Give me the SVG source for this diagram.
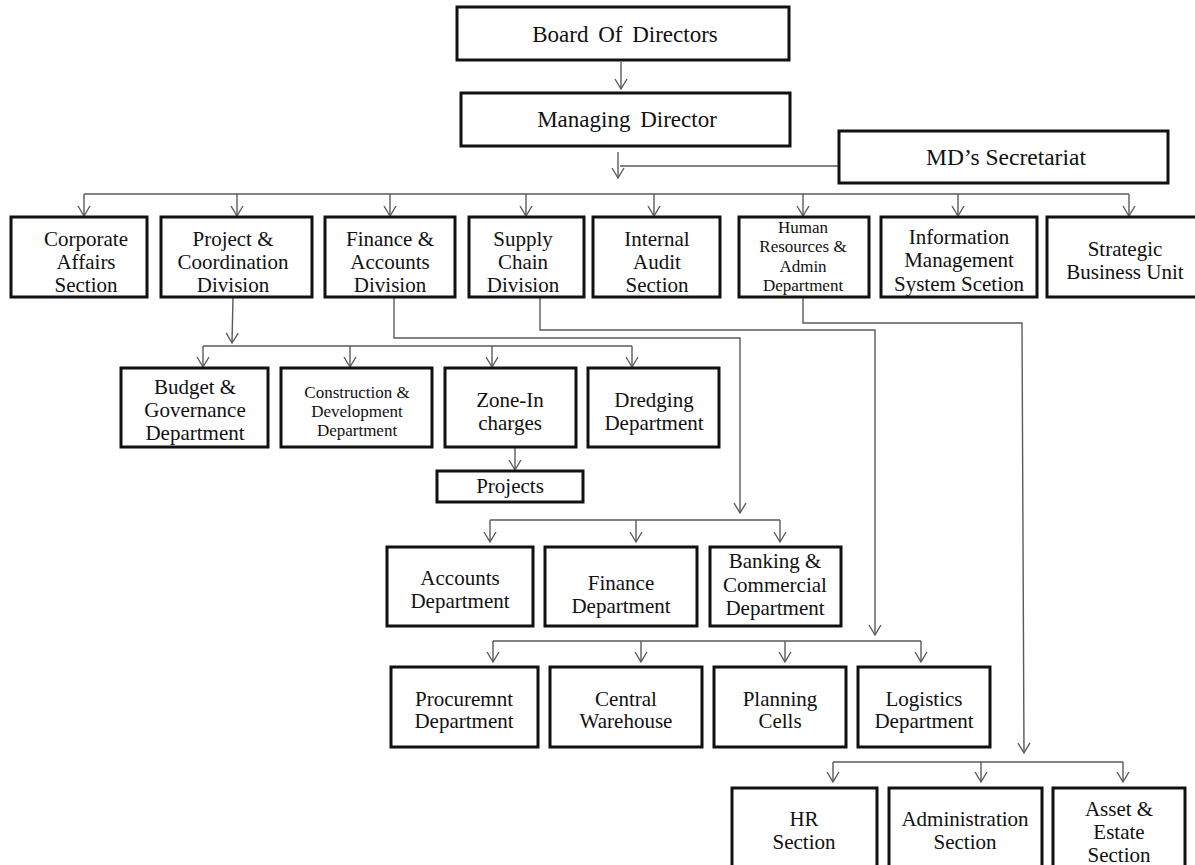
<svg xmlns="http://www.w3.org/2000/svg" width="1195" height="865" viewBox="0 0 1195 865">
<defs>
<marker id="arr" markerUnits="userSpaceOnUse" markerWidth="24" markerHeight="24" viewBox="-12 -12 24 24" refX="0" refY="0" orient="auto" overflow="visible">
<path d="M-10,-6 L0,0 L-10,6" fill="none" stroke="#5a5a5a" stroke-width="1.4"/>
</marker>
<style>
.b{fill:#fff;stroke:#111;stroke-width:3}
.t{font-family:"Liberation Serif","Times New Roman",serif;font-size:21px;fill:#111;text-anchor:middle}
.l{font-size:23px;word-spacing:4px}
.m{font-size:23.5px}
.s{font-size:17px}
.c{fill:none;stroke:#5a5a5a;stroke-width:1.4}
.a{marker-end:url(#arr)}
</style>
</defs>
<rect width="1195" height="865" fill="#fff"/>
<g id="connectors" class="c">
<line class="a" x1="621" y1="62" x2="621" y2="89"/>
<line class="a" x1="618" y1="152" x2="618" y2="178"/>
<line x1="839" y1="166" x2="620" y2="166"/>
<line x1="84" y1="194" x2="1129" y2="194"/>
<line class="a" x1="84" y1="194" x2="84" y2="216"/>
<line class="a" x1="237" y1="194" x2="237" y2="216"/>
<line class="a" x1="390" y1="194" x2="390" y2="216"/>
<line class="a" x1="526" y1="194" x2="526" y2="216"/>
<line class="a" x1="654" y1="194" x2="654" y2="216"/>
<line class="a" x1="803" y1="194" x2="803" y2="216"/>
<line class="a" x1="958" y1="194" x2="958" y2="216"/>
<line class="a" x1="1129" y1="194" x2="1129" y2="216"/>
<line class="a" x1="233" y1="297" x2="232" y2="343"/>
<line x1="203" y1="346" x2="632" y2="346"/>
<line class="a" x1="203" y1="346" x2="203" y2="367"/>
<line class="a" x1="350" y1="346" x2="350" y2="367"/>
<line class="a" x1="492" y1="346" x2="492" y2="367"/>
<line class="a" x1="632" y1="346" x2="632" y2="367"/>
<line class="a" x1="515" y1="447" x2="515" y2="470"/>
<polyline class="a" points="394,297 394,338 740,338 740,513"/>
<line x1="490" y1="520" x2="780" y2="520"/>
<line class="a" x1="490" y1="520" x2="490" y2="542"/>
<line class="a" x1="636" y1="520" x2="636" y2="542"/>
<line class="a" x1="780" y1="520" x2="780" y2="542"/>
<polyline class="a" points="540,297 540,330 875,330 875,635"/>
<line x1="493" y1="641" x2="921" y2="641"/>
<line class="a" x1="493" y1="641" x2="493" y2="662"/>
<line class="a" x1="641" y1="641" x2="641" y2="662"/>
<line class="a" x1="785" y1="641" x2="785" y2="662"/>
<line class="a" x1="921" y1="641" x2="921" y2="662"/>
<polyline class="a" points="803,297 803,323 1022,323 1024,753"/>
<line x1="833" y1="762" x2="1123" y2="762"/>
<line class="a" x1="833" y1="762" x2="833" y2="782"/>
<line class="a" x1="981" y1="762" x2="981" y2="782"/>
<line class="a" x1="1123" y1="762" x2="1123" y2="782"/>
</g>
<g id="board"><rect class="b" x="457" y="7" width="332" height="53"/><text class="t l" x="625" y="42">Board Of Directors</text></g>
<g id="md"><rect class="b" x="461" y="93" width="329" height="53"/><text class="t l" x="627" y="127">Managing Director</text></g>
<g id="mdsec"><rect class="b" x="839" y="131" width="329" height="52"/><text class="t m" x="1006" y="165">MD’s Secretariat</text></g>

<g id="corporate"><rect class="b" x="11" y="217" width="136" height="80"/><text class="t"><tspan x="86" y="246">Corporate</tspan><tspan x="86" y="269">Affairs</tspan><tspan x="86" y="292">Section</tspan></text></g>
<g id="project"><rect class="b" x="161" y="217" width="151" height="80"/><text class="t"><tspan x="233" y="246">Project &amp;</tspan><tspan x="233" y="269">Coordination</tspan><tspan x="233" y="292">Division</tspan></text></g>
<g id="finance"><rect class="b" x="325" y="217" width="130" height="80"/><text class="t"><tspan x="390" y="246">Finance &amp;</tspan><tspan x="390" y="269">Accounts</tspan><tspan x="390" y="292">Division</tspan></text></g>
<g id="supply"><rect class="b" x="469" y="217" width="115" height="80"/><text class="t"><tspan x="523" y="246">Supply</tspan><tspan x="523" y="269">Chain</tspan><tspan x="523" y="292">Division</tspan></text></g>
<g id="audit"><rect class="b" x="593" y="217" width="127" height="80"/><text class="t"><tspan x="657" y="246">Internal</tspan><tspan x="657" y="269">Audit</tspan><tspan x="657" y="292">Section</tspan></text></g>
<g id="hr"><rect class="b" x="739" y="217" width="130" height="80"/><text class="t s"><tspan x="803" y="233">Human</tspan><tspan x="803" y="252">Resources &amp;</tspan><tspan x="803" y="272">Admin</tspan><tspan x="803" y="291">Department</tspan></text></g>
<g id="ims"><rect class="b" x="881" y="217" width="156" height="80"/><text class="t"><tspan x="959" y="244">Information</tspan><tspan x="959" y="267">Management</tspan><tspan x="959" y="291">System Scetion</tspan></text></g>
<g id="sbu"><rect class="b" x="1047" y="217" width="158" height="80"/><text class="t"><tspan x="1125" y="256">Strategic</tspan><tspan x="1125" y="279">Business Unit</tspan></text></g>

<g id="budget"><rect class="b" x="121" y="368" width="147" height="79"/><text class="t"><tspan x="195" y="394">Budget &amp;</tspan><tspan x="195" y="417">Governance</tspan><tspan x="195" y="440">Department</tspan></text></g>
<g id="construction"><rect class="b" x="281" y="368" width="151" height="79"/><text class="t s"><tspan x="357" y="398">Construction &amp;</tspan><tspan x="357" y="417">Development</tspan><tspan x="357" y="436">Department</tspan></text></g>
<g id="zone"><rect class="b" x="445" y="368" width="131" height="79"/><text class="t"><tspan x="510" y="407">Zone-In</tspan><tspan x="510" y="430">charges</tspan></text></g>
<g id="dredging"><rect class="b" x="588" y="368" width="131" height="79"/><text class="t"><tspan x="654" y="407">Dredging</tspan><tspan x="654" y="430">Department</tspan></text></g>
<g id="projects"><rect class="b" x="437" y="471" width="146" height="31"/><text class="t" x="510" y="493">Projects</text></g>

<g id="accounts"><rect class="b" x="387" y="547" width="146" height="79"/><text class="t"><tspan x="460" y="585">Accounts</tspan><tspan x="460" y="608">Department</tspan></text></g>
<g id="financedept"><rect class="b" x="545" y="547" width="152" height="79"/><text class="t"><tspan x="621" y="590">Finance</tspan><tspan x="621" y="613">Department</tspan></text></g>
<g id="banking"><rect class="b" x="710" y="547" width="131" height="79"/><text class="t"><tspan x="775" y="568">Banking &amp;</tspan><tspan x="775" y="592">Commercial</tspan><tspan x="775" y="615">Department</tspan></text></g>

<g id="procurement"><rect class="b" x="391" y="667" width="147" height="80"/><text class="t"><tspan x="464" y="706">Procuremnt</tspan><tspan x="464" y="728">Department</tspan></text></g>
<g id="warehouse"><rect class="b" x="550" y="667" width="152" height="80"/><text class="t"><tspan x="626" y="706">Central</tspan><tspan x="626" y="728">Warehouse</tspan></text></g>
<g id="planning"><rect class="b" x="714" y="667" width="132" height="80"/><text class="t"><tspan x="780" y="706">Planning</tspan><tspan x="780" y="728">Cells</tspan></text></g>
<g id="logistics"><rect class="b" x="858" y="667" width="132" height="80"/><text class="t"><tspan x="924" y="706">Logistics</tspan><tspan x="924" y="728">Department</tspan></text></g>

<g id="hrsection"><rect class="b" x="732" y="788" width="145" height="95"/><text class="t"><tspan x="804" y="826">HR</tspan><tspan x="804" y="849">Section</tspan></text></g>
<g id="admin"><rect class="b" x="889" y="788" width="153" height="95"/><text class="t"><tspan x="965" y="826">Administration</tspan><tspan x="965" y="849">Section</tspan></text></g>
<g id="asset"><rect class="b" x="1053" y="788" width="132" height="95"/><text class="t"><tspan x="1119" y="816">Asset &amp;</tspan><tspan x="1119" y="839">Estate</tspan><tspan x="1119" y="862">Section</tspan></text></g>
</svg>
